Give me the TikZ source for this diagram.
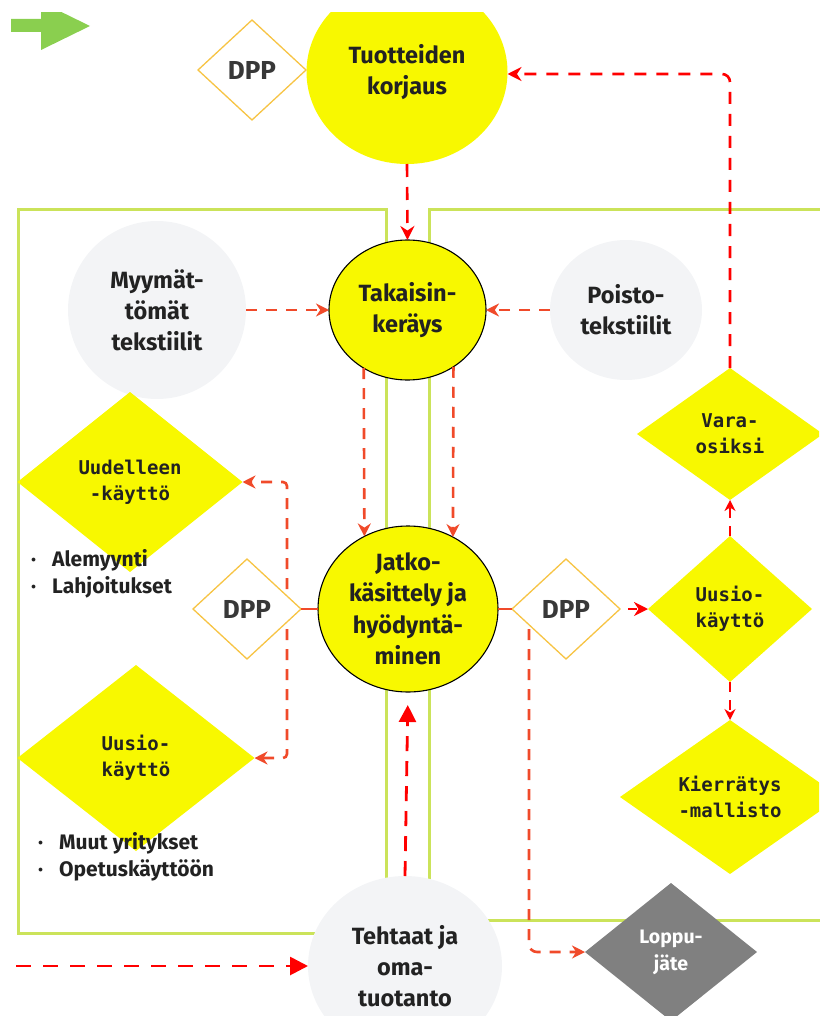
\documentclass[tikz,border=0pt]{standalone}
\usepackage{fontspec}
\setmainfont{Noto Sans}
% bold monospace for the outcome diamonds
\newfontfamily\monofam{DejaVu Sans Mono}
\newcommand\monof{\monofam\bfseries}
% heavy sans for labels, with fallbacks
\IfFontExistsTF{FiraSans-Bold.otf}{\newfontfamily\heavy{FiraSans-Bold.otf}}{%
  \IfFontExistsTF{Fira Sans Bold}{\newfontfamily\heavy{Fira Sans Bold}}{%
    \newfontfamily\heavyfam{Liberation Sans}\newcommand\heavy{\heavyfam\bfseries}}}
% semi-bold sans for the DPP tags
\IfFontExistsTF{FiraSans-SemiBold.otf}{\newfontfamily\dppf{FiraSans-SemiBold.otf}}{%
  \IfFontExistsTF{FiraSans-Medium.otf}{\newfontfamily\dppf{FiraSans-Medium.otf}}{\newcommand\dppf{\heavy}}}
\usetikzlibrary{shapes.geometric,arrows.meta}
\pgfdeclarelayer{bg}
\pgfsetlayers{bg,main}

\definecolor{ylw}{HTML}{F8F800}
\definecolor{pale}{HTML}{F3F4F6}
\definecolor{lime}{HTML}{CBE35A}
\definecolor{flame}{HTML}{F04A2A}
\definecolor{pure}{HTML}{FF0000}
\definecolor{amber}{HTML}{F7C444}
\definecolor{slate}{HTML}{808080}
\definecolor{leaf}{HTML}{8ACF4F}
\definecolor{ink}{HTML}{222222}

\tikzset{
  hub/.style={ellipse, fill=ylw, draw=black, line width=1.1pt, inner sep=0pt, outer sep=0pt,
    align=center, text=ink, font=\fontsize{23.5}{31.5}\selectfont\heavy},
  source/.style={ellipse, fill=pale, inner sep=0pt, outer sep=0pt,
    align=center, text=ink, font=\fontsize{23.5}{31}\selectfont\heavy},
  choice/.style={diamond, fill=ylw, inner sep=0pt, outer sep=0pt,
    align=center, text=ink, font=\fontsize{19}{26}\selectfont\monof},
  dppbox/.style={diamond, draw=amber, fill=white, line width=1.3pt, inner sep=0pt, outer sep=0pt,
    minimum width=108, minimum height=100, text=ink!90, font=\fontsize{26}{28}\selectfont\dppf},
  bullets/.style={anchor=west, align=left, inner sep=0pt, text=ink,
    font=\fontsize{21}{27}\selectfont\heavy},
  panel/.style={draw=lime, line width=3pt},
  flow/.style={flame, line width=2.6pt, dash pattern=on 11pt off 9pt,
    -{Stealth[length=13pt,width=13pt]}},
  redflow/.style={pure, line width=2.6pt, dash pattern=on 13pt off 10pt,
    -{Stealth[length=14pt,width=14pt]}},
  stub/.style={flame, line width=2.6pt},
}

\begin{document}
\begin{tikzpicture}[x=1pt,y=-1pt]
\useasboundingbox (0,0) rectangle (819,1016);
\begin{scope}
\clip (0,13) rectangle (819,1016);

% orientation arrow
\fill[leaf] (11,19) -- (41,19) -- (41,2) -- (90,26) -- (41,50) -- (41,32) -- (11,32) -- cycle;

% nodes
\node[source, fill=ylw, draw=none, minimum width=201, minimum height=184] (tuo) at (407,72) {Tuotteiden\\korjaus};
\node[dppbox] (dppT) at (252,70) {DPP};

\node[source, minimum width=178, minimum height=178] (myy) at (157,310) {Myymät-\\tömät\\tekstiilit};
\node[hub, minimum width=157, minimum height=140] (tak) at (407.5,310) {Takaisin-\\keräys};
\node[source, minimum width=152, minimum height=140] (poi) at (626,310) {Poisto-\\tekstiilit};

\node[choice, minimum width=225, minimum height=180] (reuse) at (130,482) {Uudelleen\\-käyttö};
\node[bullets] (listA) at (31,573.5) {\makebox[21pt][l]{·}Alemyynti\\\makebox[21pt][l]{·}Lahjoitukset};

\node[dppbox] (dppL) at (247,609) {DPP};
\node[hub, minimum width=180, minimum height=166] (jat) at (408,609) {Jatko-\\käsittely ja\\hyödyntä-\\minen};
\node[dppbox] (dppR) at (566,609) {DPP};

\node[choice, minimum width=186, minimum height=132] (vara) at (730,434) {Vara-\\osiksi};
\node[choice, minimum width=164, minimum height=146] (uusR) at (730,609) {Uusio-\\käyttö};
\node[choice, minimum width=220, minimum height=154] (kier) at (730,797) {Kierrätys\\-mallisto};

\node[choice, minimum width=237, minimum height=186] (uusL) at (136,758) {Uusio-\\käyttö};
\node[bullets] (listB) at (38,856.5) {\makebox[21pt][l]{·}Muut yritykset\\\makebox[21pt][l]{·}Opetuskäyttöön};

\node[source, minimum width=194, minimum height=180] (teh) at (405,966) {Tehtaat ja\\oma-\\tuotanto};
\node[diamond, fill=slate, inner sep=0pt, outer sep=0pt, minimum width=172, minimum height=138,
  align=center, text=white, font=\fontsize{19.5}{27}\selectfont\heavy] (lop) at (671,952) {Loppu-\\jäte};

\coordinate (brL) at (287,609);
\coordinate (brR) at (529,609);
\coordinate (feed) at (16,966);

% connectors under the nodes
\begin{pgfonlayer}{bg}
  \draw[panel] (386,210) -- (18,210) -- (18,933) -- (386,933) -- cycle;
  \draw[panel] (830,210) -- (429,210) -- (429,920) -- (830,920);
  \draw[flow, rounded corners=4pt] (brL) |- (reuse.east);
  \draw[flow, rounded corners=4pt] (brL) |- (uusL.east);
  \draw[flow, rounded corners=8pt] (brR) |- (lop.west);
\end{pgfonlayer}

% connectors
\draw[stub] (jat.west) -- (dppL.east);
\draw[stub] (jat.east) -- (dppR.west);
\draw[redflow] (tuo.south) -- (tak.north);
\draw[flow] (myy.east) -- (tak.west);
\draw[flow] (poi.west) -- (tak.east);
\draw[flow] (tak.233) -- (jat.121);
\draw[flow] (tak.309) -- (jat.58);
\draw[redflow, dash pattern=on 12pt off 10pt, rounded corners=8pt] (vara.north) |- ([yshift=-2pt]tuo.east);
\draw[redflow, dash pattern=on 9pt off 6pt, shorten <=8pt] (dppR.east) -- (uusR.west);
\draw[redflow, line width=2.4pt, dash pattern=on 10pt off 8pt, -{Stealth[length=11pt,width=11pt]}] (uusR.north) -- (vara.south);
\draw[redflow, line width=2.4pt, dash pattern=on 10pt off 8pt, -{Stealth[length=11pt,width=11pt]}] (uusR.south) -- (kier.north);
\draw[pure, line width=2.8pt, dash pattern=on 15pt off 12pt, -{Triangle[length=18pt,width=18pt]}] (feed) -- (teh.west);
\draw[pure, line width=2.8pt, dash pattern=on 15pt off 10pt, -{Triangle[length=17pt,width=17pt]}, shorten >=13pt] (teh.north) -- (jat.south);
\end{scope}
\end{tikzpicture}
\end{document}
